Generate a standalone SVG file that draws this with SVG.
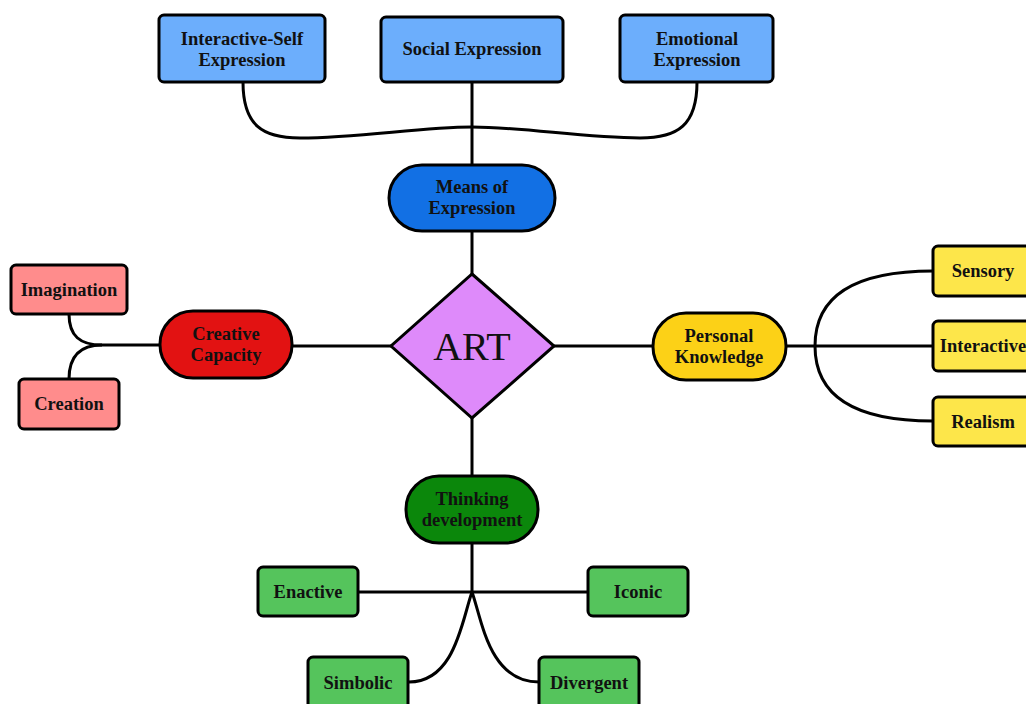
<svg xmlns="http://www.w3.org/2000/svg" width="1026" height="704" viewBox="0 0 1026 704">
<style>
.n{stroke:#000;stroke-width:3}
.t{font-family:"Liberation Serif",serif;font-weight:bold;font-size:18.5px;fill:#111;text-anchor:middle}
.c{fill:none;stroke:#000;stroke-width:3}
.blue{fill:#6caefc}
.mblue{fill:#1270e4}
.red{fill:#e21212}
.pink{fill:#ff8c8c}
.gold{fill:#fcd117}
.yel{fill:#fde64a}
.dgreen{fill:#0b870b}
.green{fill:#55c45c}
</style>
<rect width="1026" height="704" fill="#fff"/>
<g id="connectors">
<path class="c" d="M472,82 V165"/>
<path class="c" d="M243,82 C243,125 262,138 300,138 C360,138 420,127 472,127 C524,127 584,138 640,138 C678,138 697,125 697,82"/>
<path class="c" d="M472,231 V274"/>
<path class="c" d="M391,346 H292"/>
<path class="c" d="M554,346 H653"/>
<path class="c" d="M472,418 V476"/>
<path class="c" d="M160,345 H102 C80,345 69,336 69,314"/>
<path class="c" d="M102,345 C80,345 69,356 69,379"/>
<path class="c" d="M786,346 H933"/>
<path class="c" d="M933,271 C860,271 815,292 815,346 C815,400 860,421 933,421"/>
<path class="c" d="M472,543 V592"/>
<path class="c" d="M358,592 H588"/>
<path class="c" d="M472,592 C462,620 455,682 409,682"/>
<path class="c" d="M472,592 C482,620 489,682 539,682"/>
</g>
<g id="interactive-self">
<rect class="n blue" x="159" y="15" width="166" height="67" rx="5"/>
<text class="t" x="242" y="45">Interactive-Self</text>
<text class="t" x="242" y="66">Expression</text>
</g>
<g id="social">
<rect class="n blue" x="381" y="17" width="182" height="65" rx="5"/>
<text class="t" x="472" y="55">Social Expression</text>
</g>
<g id="emotional">
<rect class="n blue" x="620" y="15" width="153" height="67" rx="5"/>
<text class="t" x="697" y="45">Emotional</text>
<text class="t" x="697" y="66">Expression</text>
</g>
<g id="means">
<rect class="n mblue" x="389" y="165" width="166" height="66" rx="33"/>
<text class="t" x="472" y="193">Means of</text>
<text class="t" x="472" y="214">Expression</text>
</g>
<g id="art">
<polygon class="n" fill="#de8afa" points="472,274 554,346 472,418 391,346"/>
<text x="472" y="360" style="font-family:'Liberation Serif',serif;font-size:40px;fill:#111;text-anchor:middle">ART</text>
</g>
<g id="creative">
<rect class="n red" x="160" y="311" width="132" height="67" rx="33"/>
<text class="t" x="226" y="340">Creative</text>
<text class="t" x="226" y="361">Capacity</text>
</g>
<g id="imagination">
<rect class="n pink" x="11" y="265" width="116" height="49" rx="5"/>
<text class="t" x="69" y="296">Imagination</text>
</g>
<g id="creation">
<rect class="n pink" x="19" y="379" width="100" height="50" rx="5"/>
<text class="t" x="69" y="410">Creation</text>
</g>
<g id="personal">
<rect class="n gold" x="653" y="313" width="133" height="67" rx="33"/>
<text class="t" x="719" y="342">Personal</text>
<text class="t" x="719" y="363">Knowledge</text>
</g>
<g id="sensory">
<rect class="n yel" x="933" y="246" width="100" height="50" rx="5"/>
<text class="t" x="983" y="277">Sensory</text>
</g>
<g id="interactive">
<rect class="n yel" x="933" y="321" width="100" height="50" rx="5"/>
<text class="t" x="983" y="352">Interactive</text>
</g>
<g id="realism">
<rect class="n yel" x="933" y="397" width="100" height="49" rx="5"/>
<text class="t" x="983" y="428">Realism</text>
</g>
<g id="thinking">
<rect class="n dgreen" x="406" y="476" width="132" height="67" rx="33"/>
<text class="t" x="472" y="505">Thinking</text>
<text class="t" x="472" y="526">development</text>
</g>
<g id="enactive">
<rect class="n green" x="258" y="567" width="100" height="49" rx="5"/>
<text class="t" x="308" y="598">Enactive</text>
</g>
<g id="iconic">
<rect class="n green" x="588" y="567" width="100" height="49" rx="5"/>
<text class="t" x="638" y="598">Iconic</text>
</g>
<g id="simbolic">
<rect class="n green" x="308" y="657" width="100" height="53" rx="5"/>
<text class="t" x="358" y="689">Simbolic</text>
</g>
<g id="divergent">
<rect class="n green" x="539" y="657" width="100" height="53" rx="5"/>
<text class="t" x="589" y="689">Divergent</text>
</g>
</svg>
